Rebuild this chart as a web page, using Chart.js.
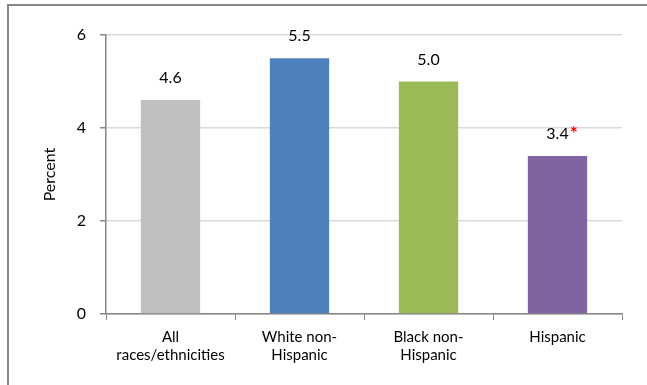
<!DOCTYPE html>
<html>
<head>
<meta charset="utf-8">
<script src="https://cdn.jsdelivr.net/npm/chart.js@4"></script>
<style>
  html, body { margin: 0; padding: 0; background: #ffffff; }
  #wrap { width: 647px; height: 385px; position: relative; }
</style>
</head>
<body>
<div id="wrap"><canvas id="chart"></canvas></div>
<script>
// chart values
const categories = [['All', 'races/ethnicities'], ['White non-', 'Hispanic'], ['Black non-', 'Hispanic'], 'Hispanic'];
const percentValues = [4.6, 5.5, 5.0, 3.4];
const valueLabels = ['4.6', '5.5', '5.0', '3.4'];
const significant = [false, false, false, true];
const barColors = ['#bfbfbf', '#4f81bd', '#9bbb59', '#8064a2'];
const yTicks = [0, 2, 4, 6];

const fontFamily = 'Lato, "Open Sans", sans-serif';

// value labels over bars, red star for significant ones
const valueLabelPlugin = {
    id: 'valueLabels',
    afterDatasetsDraw(chart) {
        const ctx = chart.ctx;
        const meta = chart.getDatasetMeta(0);
        ctx.save();
        ctx.textBaseline = 'bottom';
        ctx.textAlign = 'left';
        meta.data.forEach((bar, i) => {
            const text = valueLabels[i];
            ctx.font = '16px ' + fontFamily;
            const w = ctx.measureText(text).width;
            const y = bar.y - 14;
            ctx.fillStyle = '#000000';
            ctx.fillText(text, bar.x - w / 2, y);
            if (significant[i]) {
                ctx.fillStyle = '#ff0000';
                ctx.font = 'bold 19px ' + fontFamily;
                ctx.fillText('*', bar.x + w / 2 + 1, y + 1);
            }
        });
        ctx.restore();
    }
};

// outer frame (left and top edges visible)
const framePlugin = {
    id: 'frame',
    beforeDraw(chart) {
        const ctx = chart.ctx;
        ctx.save();
        ctx.strokeStyle = '#878787';
        ctx.lineWidth = 2;
        ctx.beginPath();
        ctx.moveTo(8, chart.height + 2);
        ctx.lineTo(8, 5);
        ctx.lineTo(chart.width + 2, 5);
        ctx.stroke();
        ctx.restore();
    }
};

new Chart(document.getElementById('chart'), {
    type: 'bar',
    data: {
        labels: categories,
        datasets: [{
            data: percentValues,
            backgroundColor: barColors,
            barPercentage: 0.46,
            categoryPercentage: 1.0
        }]
    },
    options: {
        responsive: true,
        maintainAspectRatio: false,
        animation: false,
        layout: { padding: { top: 35, right: 25, bottom: 0, left: 40 } },
        plugins: {
            legend: { display: false },
            tooltip: { enabled: false }
        },
        scales: {
            x: {
                offset: true,
                grid: {
                    offset: true,
                    drawOnChartArea: false,
                    tickLength: 6,
                    color: '#868686'
                },
                border: { color: '#868686', width: 1.5 },
                ticks: {
                    color: '#000000',
                    font: { family: fontFamily, size: 15 },
                    padding: 8,
                    maxRotation: 0,
                    autoSkip: false
                },
                afterFit(scale) { scale.height = 71; }
            },
            y: {
                min: 0,
                max: 6,
                afterBuildTicks(scale) {
                    scale.ticks = yTicks.map(v => ({ value: v }));
                },
                grid: {
                    color: '#d9d9d9',
                    lineWidth: 1.5,
                    tickColor: '#868686',
                    tickLength: 6
                },
                border: { color: '#868686', width: 1.5 },
                ticks: {
                    color: '#000000',
                    font: { family: fontFamily, size: 16 },
                    padding: 14
                },
                title: {
                    display: true,
                    text: 'Percent',
                    color: '#000000',
                    font: { family: fontFamily, size: 16 },
                    padding: { top: 0, bottom: 8 }
                },
                afterFit(scale) { scale.width = 66; }
            }
        }
    },
    plugins: [framePlugin, valueLabelPlugin]
});
</script>
</body>
</html>
